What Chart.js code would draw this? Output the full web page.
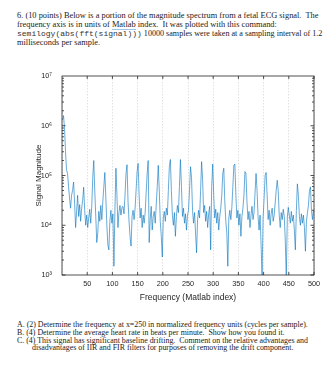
<!DOCTYPE html>
<html>
<head>
<meta charset="utf-8">
<script src="https://cdn.jsdelivr.net/npm/chart.js@4.4.1/dist/chart.umd.min.js"></script>
<style>
  body { margin: 0; background: #fff; width: 336px; height: 380px; overflow: hidden; position: relative; }
  .q { position: absolute; left: 17px; white-space: pre; font-family: "Liberation Serif", serif; font-size: 8.4px; line-height: 9px; color: #222; }
  .b { font-size: 7.9px; line-height: 8px; }
  .mono { font-family: "Liberation Mono", monospace; font-size: 8px; color: #333; }
  .sq { border-bottom: 1px solid #9cc3ea; }
</style>
</head>
<body>
<div class="q" style="top:10.5px">6. (10 points) Below is a portion of the magnitude spectrum from a fetal ECG signal.  The</div>
<div class="q" style="top:19.5px">frequency axis is in units of <span class="sq">Matlab</span> index.  It was plotted with this command:</div>
<div class="q" style="top:28.8px;font-size:8.1px"><span class="mono">semilogy(abs(fft(signal)))</span> 10000 samples were taken at a sampling interval of 1.2</div>
<div class="q" style="top:38.2px">milliseconds per sample.</div>

<canvas id="spectrum" width="336" height="250" style="position:absolute;left:0;top:60px"></canvas>

<div class="q b" style="top:321px">A. (2) Determine the frequency at x=250 in normalized frequency units (cycles per sample).</div>
<div class="q b" style="top:329.3px">B. (4) Determine the average heart rate in beats per minute.  Show how you found it.</div>
<div class="q b" style="top:337px">C. (4) This signal has significant baseline drifting.  Comment on the relative advantages and</div>
<div class="q b" style="top:344.3px;left:32px">disadvantages of IIR and FIR filters for purposes of removing the drift component.</div>

<script>
// magnitude, one value every 2 Matlab index units starting at 1
const magnitude = [
  1.3e6, 1.6e6, 9e5, 3e5, 1.3e5, 1.1e5, 6e4, 3.5e4, 2.2e4, 4e4,
  5e4, 7.4e4, 2.8e4, 9e3, 1.9e4, 4e4, 1.5e4, 2.6e4, 1.2e4, 2.2e4,
  3.2e4, 5.8e4, 2e4, 1e4, 1.6e4, 9e3, 1.4e4, 2.1e4, 1.1e4, 2.4e4,
  9e4, 2e5, 5e4, 1.5e4, 4.5e3, 7e3, 1.9e4, 1.2e4, 2.5e4, 1.3e4,
  3e4, 6e4, 1.15e5, 3.5e4, 1e4, 4e3, 3.2e3, 1.2e4, 2e4, 1.1e4,
  1.7e4, 1.5e3, 2e4, 1.4e5, 4e4, 9e3, 1.8e4, 2.5e4, 1.6e4, 2.3e4,
  2.4e4, 1.7e4, 4e4, 1.1e5, 1.65e5, 3e4, 1.2e4, 6e3, 3.8e3, 1.5e4,
  2e4, 1.3e4, 2.2e4, 5e4, 1.2e5, 1.75e5, 4e4, 1.4e4, 2.2e4, 9e3,
  1.6e4, 1.1e4, 1.8e4, 4.5e4, 1.1e5, 2e5, 4.5e3, 1.3e4, 2.4e4, 8e3,
  1.5e4, 1.9e4, 1.1e4, 2.6e4, 6e4, 1.6e5, 5e4, 1.2e4, 6e3, 2.3e3,
  1.4e4, 1.9e4, 1.2e4, 2.2e4, 1.6e4, 5e4, 1.5e5, 2.1e5, 5e4, 1.6e4,
  1e4, 1.8e4, 6e3, 1.5e4, 2.5e4, 1.8e4, 6e4, 2.1e5, 6e4, 1.5e4,
  2.2e4, 1.1e4, 1.7e4, 8e3, 1.6e4, 2e4, 5e4, 1.5e5, 9e4, 2e4,
  1.1e4, 1.8e4, 7e3, 2.8e3, 1.3e4, 2e4, 1.4e4, 5e4, 1.9e5, 8e4,
  1.8e4, 2.5e4, 1.2e4, 1.9e4, 9e3, 1.7e4, 2.4e4, 3.2e3, 6e4, 1.7e5,
  4e4, 1.4e4, 2.1e4, 1.1e4, 1.8e4, 8e3, 1.5e4, 2.2e4, 4e4, 1.1e5,
  1.4e5, 3e4, 1.2e4, 7e3, 1.5e3, 1.4e4, 2e4, 1.3e4, 2.3e4, 6e4,
  1.6e5, 1.7e5, 4e4, 1.4e4, 2e4, 1e4, 1.7e4, 6e3, 1.5e4, 2.2e4,
  4e4, 1.2e5, 1.1e5, 3e4, 1.3e4, 1.9e4, 9e3, 1.6e4, 2.4e4, 1.3e4,
  1.8e4, 4.5e4, 1.1e5, 5e4, 1.5e4, 8e3, 1.6e4, 4e3, 1e3, 1.4e4,
  3.5e4, 1e5, 1.15e5, 4e4, 1.3e4, 2e4, 1e4, 1.7e4, 2.2e4, 1.2e4,
  1.6e4, 2.8e4, 5e4, 8e4, 5e4, 1.6e4, 9e3, 1.8e4, 1.3e4, 2.1e4,
  1.5e4, 5e3, 9e2, 1.4e4, 2.3e4, 1.6e4, 1.1e4, 1.9e4, 1.2e4, 1.6e4,
  8e3, 3.2e3, 2e4, 6.8e4, 4e4, 1.5e4, 1e4, 1.7e4, 1.1e4, 1.6e4,
  9e3, 3e3, 1.2e4, 1.8e4, 2.5e4, 5e4, 5.9e4, 2e4, 1.3e4, 2e4
];
const firstIndex = 1;
const indexStep = 2;

const xTicks = [50, 100, 150, 200, 250, 300, 350, 400, 450, 500];
const yTicks = [1e3, 1e4, 1e5, 1e6, 1e7];
const yTickLabels = ['10\u00b3', '10\u2074', '10\u2075', '10\u2076', '10\u2077'];

const points = magnitude.map((v, i) => ({ x: firstIndex + i * indexStep, y: v }));

// matlab style box with inward ticks on all four sides
const axisBox = {
  id: 'axisBox',
  afterDraw(chart) {
    const { ctx, chartArea: a, scales: { x, y } } = chart;
    ctx.save();
    ctx.strokeStyle = '#262626';
    ctx.lineWidth = 0.8;
    ctx.beginPath();
    for (let e = 3; e < 7; e++) {
      for (let m = 1; m < 10; m++) {
        const py = y.getPixelForValue(m * Math.pow(10, e));
        const len = m === 1 ? 3.5 : 2;
        ctx.moveTo(a.left, py); ctx.lineTo(a.left + len, py);
        ctx.moveTo(a.right, py); ctx.lineTo(a.right - len, py);
      }
    }
    xTicks.forEach(v => {
      const px = x.getPixelForValue(v);
      ctx.moveTo(px, a.bottom); ctx.lineTo(px, a.bottom - 3);
      ctx.moveTo(px, a.top); ctx.lineTo(px, a.top + 3);
    });
    ctx.stroke();
    ctx.strokeRect(a.left, a.top, a.right - a.left, a.bottom - a.top);
    ctx.restore();
  }
};

new Chart(document.getElementById('spectrum'), {
  type: 'line',
  data: {
    datasets: [{
      data: points,
      borderColor: 'rgb(0, 114, 189)',
      borderWidth: 0.6,
      pointRadius: 0,
      tension: 0
    }]
  },
  options: {
    responsive: false,
    animation: false,
    devicePixelRatio: 1,
    layout: { padding: { left: 30, top: 16, right: 22, bottom: 0 } },
    plugins: { legend: { display: false }, tooltip: { enabled: false } },
    scales: {
      x: {
        type: 'linear',
        min: 0,
        max: 500,
        afterFit: s => { s.height = 35; },
        ticks: {
          stepSize: 50,
          padding: 5,
          color: '#262626',
          font: { family: 'Liberation Sans', size: 7.3 },
          callback: v => (v === 0 ? '' : v)
        },
        grid: { color: '#cdcdcd', lineWidth: 0.6, drawTicks: false },
        border: { display: false, dash: [1.5, 1.5] },
        title: {
          display: true,
          text: 'Frequency (Matlab index)',
          color: '#262626',
          font: { family: 'Liberation Sans', size: 8.5 },
          padding: { top: 0, bottom: 7 }
        }
      },
      y: {
        type: 'logarithmic',
        min: 1e3,
        max: 1e7,
        afterFit: s => { s.width = 32; },
        afterBuildTicks: s => { s.ticks = yTicks.map(v => ({ value: v })); },
        ticks: {
          autoSkip: false,
          padding: 2,
          color: '#262626',
          font: { family: 'Liberation Sans', size: 7.3 },
          callback: v => yTickLabels[yTicks.indexOf(v)] || ''
        },
        grid: { display: false },
        border: { display: false },
        title: {
          display: true,
          text: 'Signal Magnitude',
          color: '#262626',
          font: { family: 'Liberation Sans', size: 8 },
          padding: { top: 4, bottom: 0 }
        }
      }
    }
  },
  plugins: [axisBox]
});
</script>
</body>
</html>
